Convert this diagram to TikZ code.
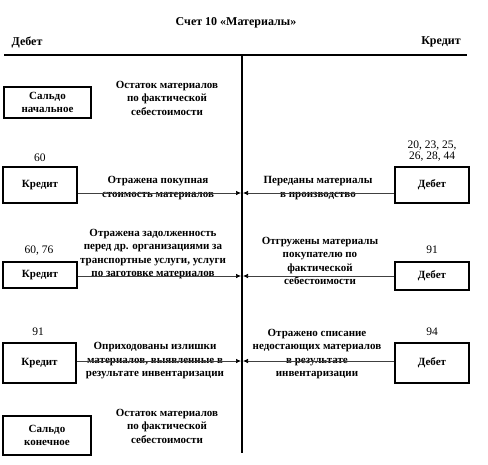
\documentclass[tikz,border=0pt]{standalone}
\usepackage{fontspec}
\setmainfont{Liberation Serif}
\usetikzlibrary{arrows.meta}
\begin{document}
\begin{tikzpicture}[x=1pt,y=-1pt,
  txt/.style={font=\bfseries\fontsize{11}{13.5}\selectfont, align=center, inner sep=0pt},
  hdr/.style={font=\bfseries\fontsize{12}{13}\selectfont, inner sep=0pt},
  num/.style={font=\fontsize{11.5}{11.5}\selectfont, align=center, inner sep=0pt},
  acct/.style={draw, line width=1.3pt, font=\bfseries\fontsize{11}{13}\selectfont, align=center, inner sep=0pt},
  arr/.style={draw=black!75, line width=0.7pt, -{Latex[length=5pt,width=4.5pt,black]}}]
\useasboundingbox (0,0) rectangle (488,464);
% header
\node[hdr] (title) at (236,23) {Счет 10 «Материалы»};
\node[hdr] (deb) at (27,42) {Дебет};
\node[hdr] (kred) at (441,42) {Кредит};
\coordinate (hl) at (4,55);
\coordinate (hr) at (467,55);
\coordinate (vt) at (242,55);
\coordinate (vb) at (242,453);
\draw[line width=2pt] (hl) -- (hr);
\draw[line width=1.6pt] (vt) -- (vb);
% opening balance
\node[acct, minimum width=87pt, minimum height=31pt] (sn) at (47.5,102.5) {Сальдо\\начальное};
\node[txt] (snt) at (167,98) {Остаток материалов\\по фактической\\себестоимости};
% row 1
\node[acct, minimum width=74pt, minimum height=36pt] (k1) at (40,185) {Кредит};
\node[num] (n1) at (40,158) {60};
\node[acct, minimum width=74pt, minimum height=36pt] (d1) at (432,185) {Дебет};
\node[num] (n1r) at (432,151) {20, 23, 25,\\26, 28, 44};
\coordinate (c1l) at (241,193);
\coordinate (c1r) at (243,193);
\node[txt] (t1l) at (158,188) {Отражена покупная\\стоимость материалов};
\node[txt] (t1r) at (318,188) {Переданы материалы\\в производство};
\draw[arr] (k1.east |- c1l) -- (c1l);
\draw[arr] (d1.west |- c1r) -- (c1r);
% row 2
\node[acct, minimum width=74pt, minimum height=26pt] (k2) at (40,275) {Кредит};
\node[num] (n2) at (39,251) {60, 76};
\node[acct, minimum width=74pt, minimum height=28pt] (d2) at (432,276) {Дебет};
\node[num] (n2r) at (432,250) {91};
\coordinate (c2l) at (241,276);
\coordinate (c2r) at (243,276);
\node[txt] (t2l) at (153,254) {Отражена задолженность\\перед др. организациями за\\транспортные услуги, услуги\\по заготовке материалов};
\node[txt] (t2r) at (320,261) {Отгружены материалы\\покупателю по\\фактической\\себестоимости};
\draw[arr] (k2.east |- c2l) -- (c2l);
\draw[arr] (d2.west |- c2r) -- (c2r);
% row 3
\node[acct, minimum width=73pt, minimum height=40pt] (k3) at (39.5,363) {Кредит};
\node[num] (n3) at (38,332) {91};
\node[acct, minimum width=74pt, minimum height=40pt] (d3) at (432,363) {Дебет};
\node[num] (n3r) at (432,332) {94};
\coordinate (c3l) at (241,361);
\coordinate (c3r) at (243,361);
\node[txt] (t3l) at (155,361) {Оприходованы излишки\\материалов, выявленные в\\результате инвентаризации};
\node[txt] (t3r) at (317,354) {Отражено списание\\недостающих материалов\\в результате\\инвентаризации};
\draw[arr] (k3.east |- c3l) -- (c3l);
\draw[arr] (d3.west |- c3r) -- (c3r);
% closing balance
\node[acct, minimum width=88pt, minimum height=39pt] (sk) at (47,435.5) {Сальдо\\конечное};
\node[txt] (skt) at (167,426) {Остаток материалов\\по фактической\\себестоимости};
\end{tikzpicture}
\end{document}
